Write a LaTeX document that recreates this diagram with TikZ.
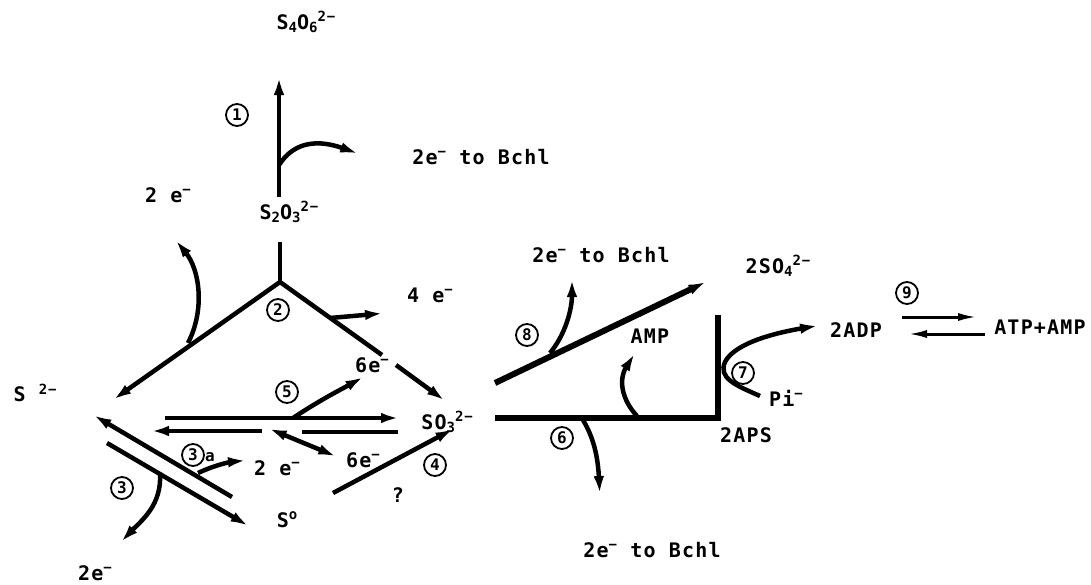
\documentclass[tikz,border=0pt]{standalone}
\usepackage{fontspec}
\setmainfont{DejaVu Sans Mono}
\newfontfamily\plotfont[LetterSpace=6]{DejaVu Sans Mono}
\usetikzlibrary{arrows.meta}
\newcommand\subx[1]{\raisebox{-0.3ex}{\fontsize{14}{14}\selectfont #1}}
\newcommand\supx[1]{\raisebox{0.7ex}{\fontsize{14}{14}\selectfont #1}}
\begin{document}
\begin{tikzpicture}[x=1pt,y=-1pt,
  lbl/.style={inner sep=0pt, font=\fontsize{20}{20}\selectfont\plotfont\bfseries},
  cnum/.style={circle,draw,line width=1.8pt,inner sep=0pt,minimum size=22pt,font=\fontsize{16}{16}\selectfont\bfseries},
  ln/.style={line width=4.5pt},
  bold/.style={line width=6pt},
  tip/.style={-{Latex[length=22pt,width=10pt]}},
  arr/.style={line width=4.5pt,tip},
  thinarr/.style={line width=3pt,-{Latex[length=20pt,width=8pt]}}
]
\useasboundingbox (0,0) rectangle (1091,584);

% ---- labels ----
\node[lbl] (s4o6) at (306,22) {S\subx{4}O\subx{6}\supx{2−}};
\node[lbl] (s2o3) at (289,212) {S\subx{2}O\subx{3}\supx{2−}};
\node[lbl] (e2tl) at (168,195) {2 e\supx{−}};
\node[lbl] (bchl1) at (481,157) {2e\supx{−}  to Bchl};
\node[lbl] (e4) at (430,295) {4 e\supx{−}};
\node[lbl] (e6u) at (372,365) {6e\supx{−}};
\node[lbl] (s2m) at (35,393) {S \supx{2−}};
\node[lbl] (so3) at (447,422) {SO\subx{3}\supx{2−}};
\node[lbl] (e2m) at (277,468) {2 e\supx{−}};
\node[lbl] (e6l) at (363,460) {6e\supx{−}};
\node[lbl] (s0) at (287,520) {S\supx{o}};
\node[lbl] (qm) at (398,495) {?};
\node[lbl] (e2bl) at (95,573) {2e\supx{−}};
\node[lbl] (bchl2) at (601,255) {2e\supx{−} to Bchl};
\node[lbl] (so4) at (778,266) {2SO\subx{4}\supx{2−}};
\node[lbl] (amp) at (650,336) {AMP};
\node[lbl] (pi) at (786,398) {Pi\supx{−}};
\node[lbl] (aps) at (746,435) {2APS};
\node[lbl] (bchl3) at (652,550) {2e\supx{−}  to Bchl};
\node[lbl] (adp) at (856,330) {2ADP};
\node[lbl] (atp) at (1040,327) {ATP+AMP};

% ---- circled numbers ----
\node[cnum] (n1) at (237,115) {1};
\node[cnum] (n2) at (278,310) {2};
\node[cnum] (n5) at (287,392) {5};
\node[cnum] (n3a) at (193,455) {3};
\node[lbl,font=\fontsize{16}{16}\selectfont\bfseries] (n3aa) at (210,457) {a};
\node[cnum] (n4) at (435,465) {4};
\node[cnum] (n3) at (122,488) {3};
\node[cnum] (n8) at (527,335) {8};
\node[cnum] (n7) at (743,373) {7};
\node[cnum] (n6) at (562,438) {6};
\node[cnum] (n9) at (907,293) {9};

% ---- coordinates ----
\coordinate (a1s) at (279,197);
\coordinate (a1e) at (279,73);
\coordinate (b1s) at (279,165);
\coordinate (b1e) at (362,155);
\coordinate (vt) at (280,242);
\coordinate (v) at (280,282);
\coordinate (ltip) at (110,402);
\coordinate (b2s) at (188,343);
\coordinate (b2e) at (173,237);
\coordinate (r1) at (382,355);
\coordinate (r2) at (396,365);
\coordinate (rtip) at (448,403);
\coordinate (b4s) at (330,318);
\coordinate (b4e) at (387,313);
\coordinate (h1s) at (165,418);
\coordinate (h1e) at (403,418);
\coordinate (b5s) at (293,418);
\coordinate (b5e) at (367,375);
\coordinate (h2s) at (398,432);
\coordinate (h2m) at (302,432);
\coordinate (h2a) at (262,431);
\coordinate (h2e) at (147,431);
\coordinate (b6s) at (265,427);
\coordinate (b6e) at (340,458);
\coordinate (d1s) at (232,497);
\coordinate (d1e) at (90,413);
\coordinate (b3as) at (198,473);
\coordinate (b3ae) at (250,460);
\coordinate (d2s) at (107,443);
\coordinate (d2e) at (252,528);
\coordinate (b3s) at (160,473);
\coordinate (b3e) at (118,545);
\coordinate (f4s) at (333,493);
\coordinate (f4e) at (457,427);
\coordinate (l6s) at (495,418);
\coordinate (l6c) at (718,418);
\coordinate (l6t) at (718,315);
\coordinate (b6bs) at (583,420);
\coordinate (b6be) at (600,498);
\coordinate (ampS) at (637,416);
\coordinate (ampE) at (637,350);
\coordinate (l8s) at (495,383);
\coordinate (l8e) at (710,280);
\coordinate (b8s) at (550,353);
\coordinate (b8e) at (572,275);
\coordinate (c7s) at (760,396);
\coordinate (c7m) at (725,362);
\coordinate (c7e) at (822,325);
\coordinate (q1s) at (902,317);
\coordinate (q1e) at (978,317);
\coordinate (q2s) at (985,334);
\coordinate (q2e) at (907,334);

% ---- reaction 1 ----
\draw[arr] (a1s) -- (a1e);
\draw[arr] (b1s) .. controls (295,140) and (320,140) .. (b1e);
% ---- reaction 2 ----
\draw[ln] (vt) -- (v);
\draw[arr] (v) -- (ltip);
\draw[arr] (b2s) .. controls (205,310) and (200,270) .. (b2e);
\draw[ln] (v) -- (r1);
\draw[arr] (r2) -- (rtip);
\draw[arr] (b4s) -- (b4e);
% ---- reaction 5 ----
\draw[arr] (h1s) -- (h1e);
\draw[arr] (b5s) .. controls (320,400) and (340,390) .. (b5e);
\draw[ln] (h2s) -- (h2m);
\draw[arr] (h2a) -- (h2e);
\draw[line width=4.5pt,{Latex[length=22pt,width=10pt]}-{Latex[length=22pt,width=10pt]}] (b6s) -- (b6e);
% ---- reaction 3 / 3a ----
\draw[arr] (d1s) -- (d1e);
\draw[arr] (b3as) .. controls (215,465) and (230,462) .. (b3ae);
\draw[arr] (d2s) -- (d2e);
\draw[arr] (b3s) .. controls (162,505) and (142,520) .. (b3e);
% ---- reaction 4 ----
\draw[arr] (f4s) -- (f4e);
% ---- reaction 6 ----
\draw[bold,line join=miter] (l6s) -- (l6c) -- (l6t);
\draw[arr] (b6bs) .. controls (595,440) and (598,460) .. (b6be);
\draw[arr] (ampS) .. controls (622,400) and (618,380) .. (ampE);
% ---- reaction 8 ----
\draw[bold,tip] (l8s) -- (l8e);
\draw[arr] (b8s) .. controls (565,335) and (572,310) .. (b8e);
% ---- reaction 7 ----
\draw[arr] (c7s) .. controls (735,385) and (718,378) .. (c7m) .. controls (735,342) and (780,332) .. (c7e);
% ---- reaction 9 ----
\draw[thinarr] (q1s) -- (q1e);
\draw[thinarr] (q2s) -- (q2e);
\end{tikzpicture}
\end{document}
